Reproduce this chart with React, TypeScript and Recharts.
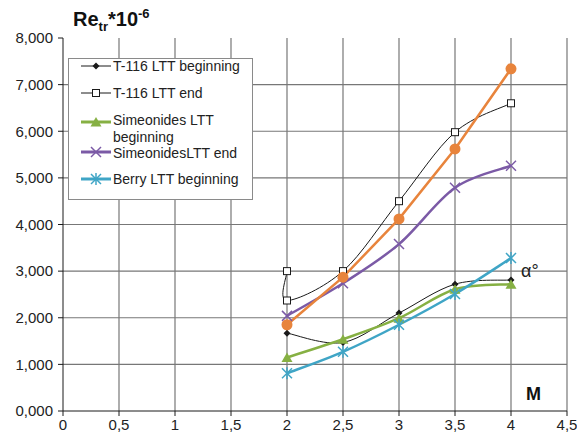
import { CartesianGrid, Line, LineChart, XAxis, YAxis } from "recharts";

// Mach numbers (x) and Re_tr * 10^-6 values (y)
const machNumbers = [2, 2.5, 3, 3.5, 4];
const t116EndMach = [2, 2, 2.5, 3, 3.5, 4];

const t116Begin = [1.67, 1.47, 2.1, 2.72, 2.81];
const t116End = [3.0, 2.37, 3.0, 4.5, 5.98, 6.6];
const simeonidesBegin = [1.15, 1.54, 1.99, 2.61, 2.72];
const simeonidesEnd = [2.04, 2.74, 3.58, 4.79, 5.26];
const berryBegin = [0.81, 1.27, 1.85, 2.51, 3.28];
const alphaSeries = [1.85, 2.87, 4.12, 5.62, 7.34];

const xTicks = [0, 0.5, 1, 1.5, 2, 2.5, 3, 3.5, 4, 4.5];
const yTicks = [0, 1, 2, 3, 4, 5, 6, 7, 8];

const FONT = '"Liberation Sans", Arial, sans-serif';
const GREEN = "#86b043";
const PURPLE = "#7b5aa6";
const CYAN = "#3fa5c6";
const ORANGE = "#e8843c";
const INK = "#1a1a1a";

function toPoints(xs: number[], ys: number[]) {
  return ys.map((y, i) => ({ x: xs[i], y }));
}

// Excel-style smoothed line (Catmull-Rom through every point)
function excelSmooth(context: any) {
  let pts: number[][] = [];
  return {
    areaStart() {},
    areaEnd() {},
    lineStart() {
      pts = [];
    },
    point(x: number, y: number) {
      pts.push([+x, +y]);
    },
    lineEnd() {
      if (pts.length === 0) return;
      context.moveTo(pts[0][0], pts[0][1]);
      for (let i = 0; i < pts.length - 1; i++) {
        const p0 = pts[i - 1] ?? pts[i];
        const p1 = pts[i];
        const p2 = pts[i + 1];
        const p3 = pts[i + 2] ?? p2;
        context.bezierCurveTo(
          p1[0] + (p2[0] - p0[0]) / 6,
          p1[1] + (p2[1] - p0[1]) / 6,
          p2[0] - (p3[0] - p1[0]) / 6,
          p2[1] - (p3[1] - p1[1]) / 6,
          p2[0],
          p2[1],
        );
      }
    },
  };
}

type MarkerKind = "diamond" | "square" | "triangle" | "cross" | "star" | "circle";

function Marker({ kind, cx, cy, color }: { kind: MarkerKind; cx: number; cy: number; color: string }) {
  switch (kind) {
    case "diamond":
      return (
        <polygon
          points={`${cx},${cy - 3.5} ${cx + 3.5},${cy} ${cx},${cy + 3.5} ${cx - 3.5},${cy}`}
          fill={color}
        />
      );
    case "square":
      return <rect x={cx - 3.5} y={cy - 3.5} width={7} height={7} fill="#fff" stroke={color} strokeWidth={1} />;
    case "triangle":
      return (
        <polygon points={`${cx},${cy - 5} ${cx + 5.5},${cy + 4.5} ${cx - 5.5},${cy + 4.5}`} fill={color} />
      );
    case "cross":
      return (
        <g stroke={color} strokeWidth={1.5}>
          <line x1={cx - 5} y1={cy - 5} x2={cx + 5} y2={cy + 5} />
          <line x1={cx - 5} y1={cy + 5} x2={cx + 5} y2={cy - 5} />
        </g>
      );
    case "star":
      return (
        <g stroke={color} strokeWidth={1.5}>
          <line x1={cx - 5} y1={cy - 5} x2={cx + 5} y2={cy + 5} />
          <line x1={cx - 5} y1={cy + 5} x2={cx + 5} y2={cy - 5} />
          <line x1={cx} y1={cy - 6} x2={cx} y2={cy + 6} />
        </g>
      );
    default:
      return <circle cx={cx} cy={cy} r={5.5} fill={color} />;
  }
}

function dotFor(kind: MarkerKind, color: string) {
  return (props: any) => {
    if (props.cx == null || props.cy == null) return <g key={props.index} />;
    return (
      <g key={props.index}>
        <Marker kind={kind} cx={props.cx} cy={props.cy} color={color} />
      </g>
    );
  };
}

const legendItems: {
  label: string[];
  kind: MarkerKind;
  color: string;
  width: number;
  top: number;
  textTop: number;
}[] = [
  { label: ["T-116 LTT beginning"], kind: "diamond", color: INK, width: 1, top: 65, textTop: 57 },
  { label: ["T-116 LTT end"], kind: "square", color: INK, width: 1, top: 92, textTop: 84 },
  { label: ["Simeonides LTT", "beginning"], kind: "triangle", color: GREEN, width: 3, top: 121, textTop: 111 },
  { label: ["SimeonidesLTT end"], kind: "cross", color: PURPLE, width: 3, top: 151, textTop: 144 },
  { label: ["Berry LTT beginning"], kind: "star", color: CYAN, width: 3, top: 178, textTop: 170 },
];

function ChartLegend() {
  return (
    <div
      style={{
        position: "absolute",
        left: 68,
        top: 58,
        width: 185,
        height: 142,
        border: "1px solid #8a8a8a",
        background: "#fff",
        boxSizing: "border-box",
      }}
    >
      {legendItems.map((item) => (
        <div key={item.label[0]}>
          <svg
            width={34}
            height={14}
            style={{ position: "absolute", left: 10, top: item.top - 58 - 7 }}
          >
            <line x1={2} y1={7} x2={32} y2={7} stroke={item.color} strokeWidth={item.width} />
            <Marker kind={item.kind} cx={17} cy={7} color={item.color} />
          </svg>
          {item.label.map((line, i) => (
            <div
              key={line}
              style={{
                position: "absolute",
                left: 44,
                top: item.textTop - 58 + i * 17,
                fontSize: 14,
                lineHeight: "16px",
                color: "#222",
                whiteSpace: "nowrap",
              }}
            >
              {line}
            </div>
          ))}
        </div>
      ))}
    </div>
  );
}

const fmtX = (v: number) => String(v).replace(".", ",");
const fmtY = (v: number) => v.toFixed(3).replace(".", ",");

export default function App() {
  const tick = { fill: "#222", fontSize: 15, fontFamily: FONT };
  return (
    <div style={{ position: "absolute", left: 0, top: 0, width: 577, height: 436, background: "#fff", fontFamily: FONT }}>
      <LineChart width={577} height={436} margin={{ top: 38, right: 10, bottom: 5, left: 8 }}>
        <CartesianGrid
          stroke="#777"
          strokeWidth={1.2}
          horizontalValues={[1, 2, 3, 4, 5, 6, 7]}
          verticalValues={[0.5, 1, 1.5, 2, 2.5, 3, 3.5, 4, 4.5]}
        />
        <XAxis
          type="number"
          dataKey="x"
          domain={[0, 4.5]}
          ticks={xTicks}
          tickFormatter={fmtX}
          tick={tick}
          tickSize={5}
          tickMargin={3}
          height={20}
          stroke={INK}
          allowDuplicatedCategory={false}
        />
        <YAxis
          type="number"
          dataKey="y"
          domain={[0, 8]}
          ticks={yTicks}
          tickFormatter={fmtY}
          tick={tick}
          tickSize={5}
          tickMargin={5}
          width={55}
          stroke={INK}
        />
        <Line
          data={toPoints(machNumbers, t116Begin)}
          dataKey="y"
          type={excelSmooth as any}
          stroke={INK}
          strokeWidth={1}
          dot={dotFor("diamond", INK)}
          isAnimationActive={false}
        />
        <Line
          data={toPoints(t116EndMach, t116End)}
          dataKey="y"
          type={excelSmooth as any}
          stroke={INK}
          strokeWidth={1}
          dot={dotFor("square", INK)}
          isAnimationActive={false}
        />
        <Line
          data={toPoints(machNumbers, simeonidesBegin)}
          dataKey="y"
          type={excelSmooth as any}
          stroke={GREEN}
          strokeWidth={2.5}
          dot={dotFor("triangle", GREEN)}
          isAnimationActive={false}
        />
        <Line
          data={toPoints(machNumbers, simeonidesEnd)}
          dataKey="y"
          type={excelSmooth as any}
          stroke={PURPLE}
          strokeWidth={2.5}
          dot={dotFor("cross", PURPLE)}
          isAnimationActive={false}
        />
        <Line
          data={toPoints(machNumbers, berryBegin)}
          dataKey="y"
          type={excelSmooth as any}
          stroke={CYAN}
          strokeWidth={2.5}
          dot={dotFor("star", CYAN)}
          isAnimationActive={false}
        />
        <Line
          data={toPoints(machNumbers, alphaSeries)}
          dataKey="y"
          type="linear"
          stroke={ORANGE}
          strokeWidth={2.5}
          dot={dotFor("circle", ORANGE)}
          isAnimationActive={false}
        />
      </LineChart>

      <div style={{ position: "absolute", left: 73, top: 6, fontSize: 20, fontWeight: "bold", color: "#111", whiteSpace: "nowrap" }}>
        Re<sub style={{ fontSize: 13 }}>tr</sub>*10<sup style={{ fontSize: 13 }}>-6</sup>
      </div>
      <div style={{ position: "absolute", left: 521, top: 261, fontSize: 18, color: "#222" }}>α°</div>
      <div style={{ position: "absolute", left: 526, top: 384, fontSize: 18, fontWeight: "bold", color: "#111" }}>M</div>
      <ChartLegend />
    </div>
  );
}
